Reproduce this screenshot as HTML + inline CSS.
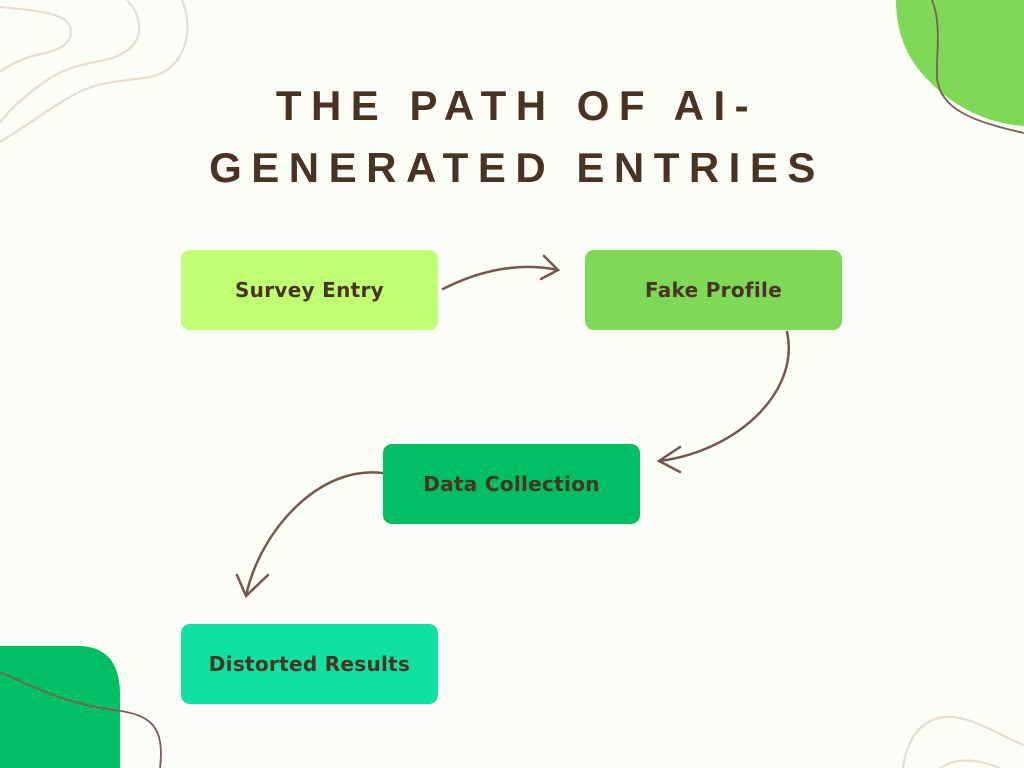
<!DOCTYPE html>
<html><head><meta charset="utf-8"><style>
html,body{margin:0;padding:0;width:1024px;height:768px;overflow:hidden;background:#fcfdf6;}
.t{position:absolute;left:0;width:1024px;box-sizing:border-box;padding-left:10px;text-align:center;font-family:"Liberation Sans",sans-serif;font-weight:bold;color:#4a3323;font-size:42px;letter-spacing:9.5px;}
.b{position:absolute;width:257px;height:80px;border-radius:9px;display:flex;align-items:center;justify-content:center;font-family:"DejaVu Sans","Liberation Sans",sans-serif;font-weight:bold;font-size:20px;color:#4a3323;letter-spacing:0.3px;}
</style></head><body>
<svg width="1024" height="768" style="position:absolute;left:0;top:0">
<g fill="none" stroke="#e8ddd0" stroke-width="2.2">
<path d="M0,7 C30,10 55,12 65,20 C78,32 70,48 45,53 C25,57 10,64 0,72"/>
<path d="M127,0 C145,20 145,45 115,57 C95,64 70,62 40,85 C20,100 10,110 0,122"/>
<path d="M182,0 C195,30 185,70 150,77 C120,82 95,80 65,100 C40,115 20,130 0,142"/>
<path d="M903,768 C908,730 930,712 960,718 C985,724 1005,738 1024,745"/>
<path d="M940,768 C955,758 975,758 1000,768"/>
</g>
<path d="M896,0 L1024,0 L1024,126 C990,124 955,108 930,82 C905,58 896,30 896,0 Z" fill="#7ed957"/>
<path d="M0,646 L78,646 C108,646 120,665 120,695 L120,768 L0,768 Z" fill="#00bf63"/>
<g fill="none" stroke="#7a5f58" stroke-width="1.8">
<path d="M932,0 C942,25 936,55 937,78 C940,110 975,122 1024,133"/>
<path d="M0,672 C40,690 70,705 115,710 C150,715 165,725 160,768"/>
</g>
<g fill="none" stroke="#74574f" stroke-width="2.5" stroke-linecap="round">
<path d="M443,289 C480,270 520,262 558,270"/>
<path d="M544,256 L558,270 L541,279"/>
<path d="M787,332 C800,390 740,450 660,461"/>
<path d="M680,447 L659,461 L680,472"/>
<path d="M382,473 C320,465 260,530 246,596"/>
<path d="M237,575 L246,596 L268,575"/>
</g>
</svg>
<div class="t" style="top:82px;">THE PATH OF AI-</div>
<div class="t" style="top:144px;">GENERATED ENTRIES</div>
<div class="b" style="left:181px;top:250px;background:#c1ff72;">Survey Entry</div>
<div class="b" style="left:585px;top:250px;background:#7ed957;">Fake Profile</div>
<div class="b" style="left:383px;top:444px;background:#00bf63;">Data Collection</div>
<div class="b" style="left:181px;top:624px;background:#10e1a0;">Distorted Results</div>
</body></html>
